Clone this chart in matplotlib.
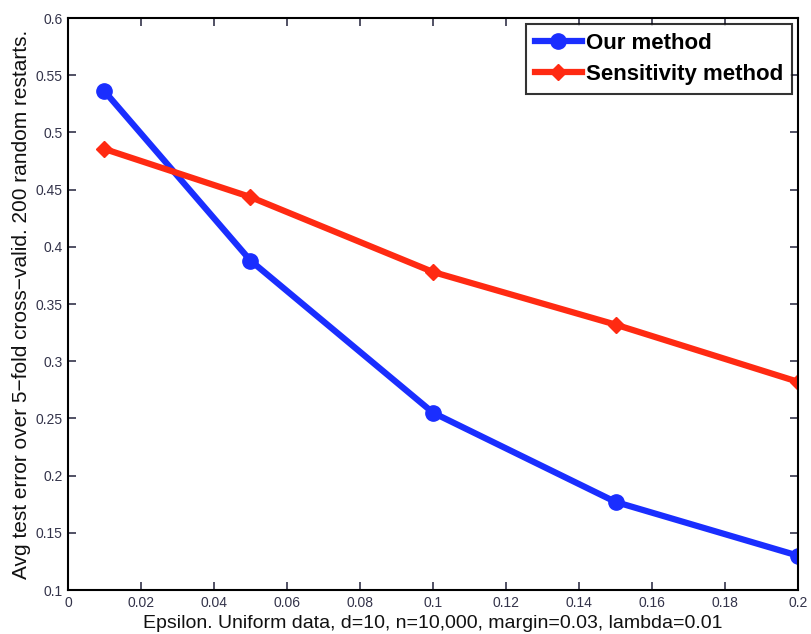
import matplotlib
matplotlib.use("Agg")
import matplotlib.pyplot as plt

plt.rcParams['font.family'] = ['Liberation Sans', 'DejaVu Sans']

# data
epsilon = [0.01, 0.05, 0.1, 0.15, 0.2]
our_method = [0.536, 0.388, 0.255, 0.177, 0.130]
sensitivity_method = [0.4855, 0.4435, 0.378, 0.332, 0.282]

x_ticks = [0, 0.02, 0.04, 0.06, 0.08, 0.1, 0.12, 0.14, 0.16, 0.18, 0.2]
x_tick_labels = ['0', '0.02', '0.04', '0.06', '0.08', '0.1', '0.12', '0.14', '0.16', '0.18', '0.2']
y_ticks = [0.1, 0.15, 0.2, 0.25, 0.3, 0.35, 0.4, 0.45, 0.5, 0.55, 0.6]
y_tick_labels = ['0.1', '0.15', '0.2', '0.25', '0.3', '0.35', '0.4', '0.45', '0.5', '0.55', '0.6']

fig = plt.figure(figsize=(8.11, 6.34), dpi=100)
ax = fig.add_axes([0.0838, 0.0694, 0.9002, 0.9022])

ax.plot(epsilon, our_method, color='#1a2eff', linewidth=4.5, marker='o',
        markersize=11, label='Our method')
ax.plot(epsilon, sensitivity_method, color='#ff2a12', linewidth=4.5, marker='D',
        markersize=8.5, label='Sensitivity method')

ax.set_xlim(0, 0.2)
ax.set_ylim(0.1, 0.6)
ax.set_xticks(x_ticks)
ax.set_xticklabels(x_tick_labels)
ax.set_yticks(y_ticks)
ax.set_yticklabels(y_tick_labels)
ax.tick_params(direction='in', top=True, right=True, length=6, width=1.2,
               labelsize=10, colors='#33334a', pad=4)
for s in ax.spines.values():
    s.set_linewidth(1.5)

ax.set_xlabel('Epsilon. Uniform data, d=10, n=10,000, margin=0.03, lambda=0.01',
              fontsize=14, labelpad=4, color='#111111')
ax.set_ylabel('Avg test error over 5\u2212fold cross\u2212valid. 200 random restarts.',
              fontsize=15, labelpad=3, color='#111111')

leg = ax.legend(loc='upper right', prop={'weight': 'bold', 'size': 16},
                frameon=True, fancybox=False, edgecolor='black',
                bbox_to_anchor=(0.992, 0.99), borderaxespad=0.0,
                handlelength=2.1, borderpad=0.4,
                labelspacing=0.45, handletextpad=0.2)
leg.get_frame().set_linewidth(1.5)

fig.savefig('out.png', dpi=100)
